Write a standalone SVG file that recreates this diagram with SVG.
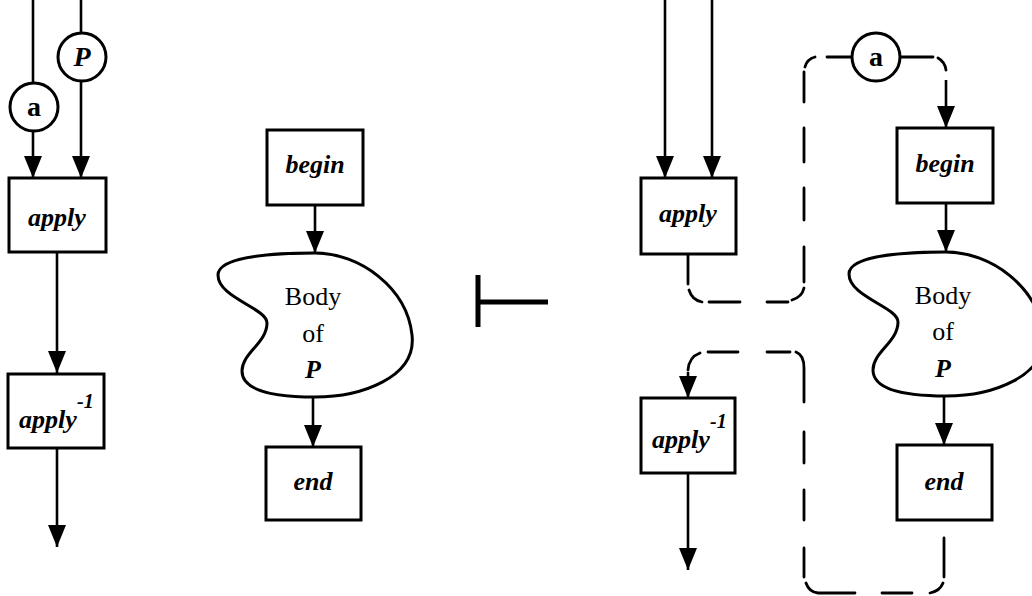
<svg xmlns="http://www.w3.org/2000/svg" width="1032" height="596" viewBox="0 0 1032 596">
<style>
.ln{fill:none;stroke:#000;stroke-width:2.6}
.dash{fill:none;stroke:#000;stroke-width:2.8;stroke-linecap:round}
.box{fill:#fff;stroke:#000;stroke-width:3}
.circ{fill:#fff;stroke:#000;stroke-width:3}
.blob{fill:#fff;stroke:#000;stroke-width:3}
.lbl{font-family:"Liberation Serif",serif;font-style:italic;font-weight:bold;font-size:26px;text-anchor:middle}
.lbl2{font-family:"Liberation Serif",serif;font-style:italic;font-weight:bold;font-size:26px}
.sup{font-size:20px}
.body{font-family:"Liberation Serif",serif;font-size:26px;text-anchor:middle}
.ctx{font-family:"Liberation Serif",serif;font-weight:bold;font-size:28px;text-anchor:middle}
.ctxi{font-family:"Liberation Serif",serif;font-weight:bold;font-style:italic;font-size:28px;text-anchor:middle}
.ts{fill:none;stroke:#000;stroke-width:5}
</style>
<defs>
<marker id="arr" viewBox="0 0 22 18" refX="22" refY="9" markerWidth="22" markerHeight="18" markerUnits="userSpaceOnUse" orient="auto">
<path d="M0,0 L22,9 L0,18 Z" fill="#000" stroke="none"/>
</marker>
<path id="blobshape" d="M0,0 C45,0 92,35 97,82 C102,125 45,144 0,144 C-35,144 -73,140 -73,118 C-73,100 -48,90 -48,70 C-48,55 -97,45 -97,22 C-97,5 -50,0 0,0 Z"/>
</defs>

<g id="connectors">
<!-- left column -->
<line class="ln" x1="33" y1="0" x2="33" y2="84"/>
<line class="ln" x1="33" y1="130" x2="33" y2="178" marker-end="url(#arr)"/>
<line class="ln" x1="81" y1="0" x2="81" y2="34"/>
<line class="ln" x1="81" y1="80" x2="81" y2="178" marker-end="url(#arr)"/>
<line class="ln" x1="57" y1="252" x2="57" y2="373" marker-end="url(#arr)"/>
<line class="ln" x1="57" y1="448" x2="57" y2="547" marker-end="url(#arr)"/>
<!-- middle column -->
<line class="ln" x1="315" y1="205" x2="315" y2="253" marker-end="url(#arr)"/>
<line class="ln" x1="313" y1="396" x2="313" y2="447" marker-end="url(#arr)"/>
<!-- right side -->
<line class="ln" x1="665" y1="0" x2="665" y2="178" marker-end="url(#arr)"/>
<line class="ln" x1="712" y1="0" x2="712" y2="178" marker-end="url(#arr)"/>
<line class="ln" x1="688" y1="473" x2="688" y2="570" marker-end="url(#arr)"/>
<line class="ln" x1="946" y1="203" x2="946" y2="252" marker-end="url(#arr)"/>
<line class="ln" x1="944" y1="396" x2="944" y2="445" marker-end="url(#arr)"/>
<!-- dashed: apply -> a -> begin -->
<path class="dash" d="M688,254 L688,284 M689,290 Q692,300 702,302 M709,302 L740,302 M767,302 L788,302 M792,300 Q802,297 804,288 M804,282 L804,247 M804,220 L804,188 M804,162 L804,128 M804,102 L804,72 M805,67 Q807,59 815,57 M827,57 L852,57 M900,57 L933,57 M938,58 Q945,62 946,70"/>
<line class="ln" x1="946" y1="80" x2="946" y2="128" marker-end="url(#arr)"/>
<!-- dashed: end -> apply^-1 -->
<path class="dash" d="M944,538 L944,577 M943,583 Q940,591 930,593 M912,593 L882,593 M855,593 L818,593 Q809,592 806,583 M804,577 L804,548 M804,520 L804,490 M804,463 L804,432 M804,402 L804,368 Q804,355 796,352 M790,352 L767,352 M738,352 L708,352 M700,353 Q689,357 688,370"/>
<line class="ln" x1="688" y1="372" x2="688" y2="398" marker-end="url(#arr)"/>
<!-- turnstile -->
<path class="ts" d="M478,275 L478,327 M478,302 L548,302"/>
</g>

<g id="node-a-left">
<circle class="circ" cx="34" cy="107" r="24"/>
<text class="ctx" x="34" y="116">a</text>
</g>
<g id="node-P-left">
<circle class="circ" cx="82" cy="57" r="24"/>
<text class="ctxi" x="82" y="66">P</text>
</g>
<g id="node-apply-left">
<rect class="box" x="9" y="178" width="97" height="74"/>
<text class="lbl" x="57" y="226">apply</text>
</g>
<g id="node-applyinv-left">
<rect class="box" x="8" y="374" width="96" height="74"/>
<text class="lbl2" x="19" y="428">apply<tspan class="sup" x="77" y="408">-1</tspan></text>
</g>

<g id="node-begin-mid">
<rect class="box" x="267" y="130" width="96" height="75"/>
<text class="lbl" x="315" y="173">begin</text>
</g>
<g id="node-body-mid">
<use href="#blobshape" class="blob" transform="translate(315,253)"/>
<text class="body" x="313" y="305">Body</text>
<text class="body" x="313" y="342">of</text>
<text class="body" x="313" y="378" font-style="italic" font-weight="bold">P</text>
</g>
<g id="node-end-mid">
<rect class="box" x="266" y="447" width="95" height="73"/>
<text class="lbl" x="313" y="490">end</text>
</g>

<g id="node-apply-right">
<rect class="box" x="641" y="178" width="95" height="76"/>
<text class="lbl" x="688" y="222">apply</text>
</g>
<g id="node-applyinv-right">
<rect class="box" x="641" y="398" width="94" height="75"/>
<text class="lbl2" x="652" y="448">apply<tspan class="sup" x="710" y="428">-1</tspan></text>
</g>
<g id="node-a-right">
<circle class="circ" cx="876" cy="57" r="24"/>
<text class="ctx" x="876" y="66">a</text>
</g>
<g id="node-begin-right">
<rect class="box" x="897" y="128" width="96" height="75"/>
<text class="lbl" x="945" y="172">begin</text>
</g>
<g id="node-body-right">
<use href="#blobshape" class="blob" transform="translate(946,252)"/>
<text class="body" x="943" y="304">Body</text>
<text class="body" x="943" y="340">of</text>
<text class="body" x="943" y="377" font-style="italic" font-weight="bold">P</text>
</g>
<g id="node-end-right">
<rect class="box" x="897" y="445" width="95" height="75"/>
<text class="lbl" x="944" y="490">end</text>
</g>
</svg>
